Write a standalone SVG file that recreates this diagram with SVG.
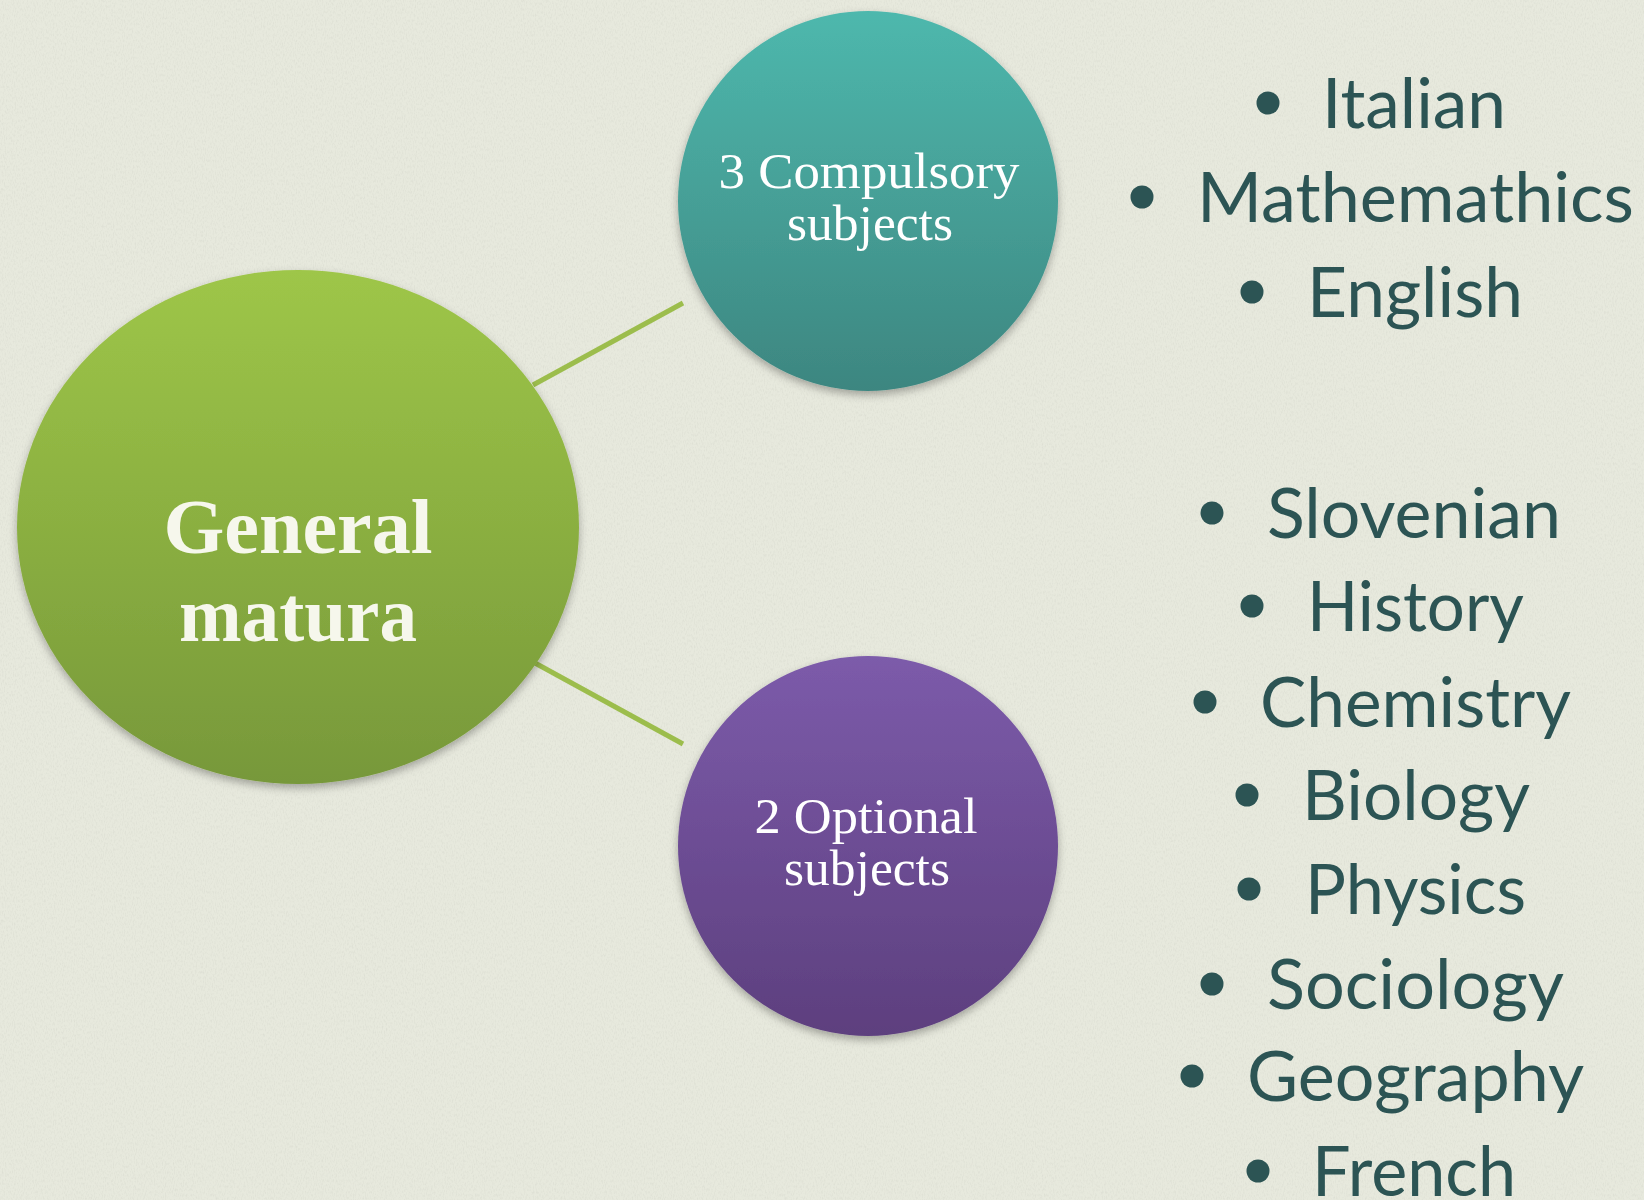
<svg xmlns="http://www.w3.org/2000/svg" width="1644" height="1200" viewBox="0 0 1644 1200">
<defs>
<linearGradient id="gGreen" x1="0" y1="0" x2="0" y2="1"><stop offset="0" stop-color="#9EC648"/><stop offset="1" stop-color="#77983A"/></linearGradient>
<linearGradient id="gTeal" x1="0" y1="0" x2="0" y2="1"><stop offset="0" stop-color="#4EB8AD"/><stop offset="1" stop-color="#3D8680"/></linearGradient>
<linearGradient id="gPurple" x1="0" y1="0" x2="0" y2="1"><stop offset="0" stop-color="#7C5BAA"/><stop offset="1" stop-color="#5D3F7E"/></linearGradient>
<filter id="shadow" x="-10%" y="-10%" width="120%" height="125%"><feDropShadow dx="0" dy="4" stdDeviation="4" flood-color="#000" flood-opacity="0.3"/></filter>
<filter id="tex" x="0" y="0" width="100%" height="100%"><feTurbulence type="fractalNoise" baseFrequency="0.9 0.35" numOctaves="2" seed="3"/><feColorMatrix type="matrix" values="0 0 0 0 0.55  0 0 0 0 0.56  0 0 0 0 0.5  0 0 0 -1.6 0.9"/></filter>
<style>
.bg{fill:#E7E9DD}
.conn{stroke:#9CBD4C;stroke-width:5;fill:none}
.serif{font-family:"Liberation Serif","Times New Roman",serif;text-anchor:middle}
.lbl{fill:#FFFFFF;font-size:50px}
.big{fill:#F6F7EC;font-size:78px;font-weight:bold}
.item{font-family:Lato,"Open Sans","Liberation Sans",sans-serif;font-size:70px;fill:#2C5454}
.dot{fill:#2C5454}
</style>
</defs>
<rect class="bg" x="0" y="0" width="1644" height="1200"/>
<rect x="0" y="0" width="1644" height="1200" filter="url(#tex)" opacity="0.35"/>
<g id="connectors">
<line class="conn" x1="533" y1="385" x2="683" y2="303"/>
<line class="conn" x1="535" y1="663" x2="683" y2="744"/>
</g>
<g id="node-general">
<ellipse cx="298" cy="527" rx="281" ry="257" fill="url(#gGreen)" filter="url(#shadow)"/>
<text class="serif big" x="298" y="553" textLength="269" lengthAdjust="spacingAndGlyphs">General</text>
<text class="serif big" x="298" y="641" textLength="238" lengthAdjust="spacingAndGlyphs">matura</text>
</g>
<g id="node-compulsory">
<circle cx="868" cy="201" r="190" fill="url(#gTeal)" filter="url(#shadow)"/>
<text class="serif lbl" x="869" y="188" textLength="301" lengthAdjust="spacingAndGlyphs">3 Compulsory</text>
<text class="serif lbl" x="870" y="240" textLength="166" lengthAdjust="spacingAndGlyphs">subjects</text>
</g>
<g id="node-optional">
<circle cx="868" cy="846" r="190" fill="url(#gPurple)" filter="url(#shadow)"/>
<text class="serif lbl" x="866" y="833" textLength="223" lengthAdjust="spacingAndGlyphs">2 Optional</text>
<text class="serif lbl" x="867" y="885" textLength="166" lengthAdjust="spacingAndGlyphs">subjects</text>
</g>
<g id="list-compulsory">
<circle class="dot" cx="1268" cy="103" r="11.5"/><text class="item" x="1322" y="128" textLength="184" lengthAdjust="spacingAndGlyphs">Italian</text>
<circle class="dot" cx="1142" cy="197" r="11.5"/><text class="item" x="1197" y="222" textLength="437" lengthAdjust="spacingAndGlyphs">Mathemathics</text>
<circle class="dot" cx="1252" cy="292" r="11.5"/><text class="item" x="1307" y="317" textLength="216" lengthAdjust="spacingAndGlyphs">English</text>
</g>
<g id="list-optional">
<circle class="dot" cx="1212" cy="513" r="11.5"/><text class="item" x="1267" y="538" textLength="294" lengthAdjust="spacingAndGlyphs">Slovenian</text>
<circle class="dot" cx="1252" cy="606" r="11.5"/><text class="item" x="1307" y="631" textLength="217" lengthAdjust="spacingAndGlyphs">History</text>
<circle class="dot" cx="1205" cy="702" r="11.5"/><text class="item" x="1260" y="727" textLength="311" lengthAdjust="spacingAndGlyphs">Chemistry</text>
<circle class="dot" cx="1247" cy="795" r="11.5"/><text class="item" x="1302" y="820" textLength="228" lengthAdjust="spacingAndGlyphs">Biology</text>
<circle class="dot" cx="1249" cy="889" r="11.5"/><text class="item" x="1305" y="914" textLength="221" lengthAdjust="spacingAndGlyphs">Physics</text>
<circle class="dot" cx="1212" cy="984" r="11.5"/><text class="item" x="1267" y="1009" textLength="297" lengthAdjust="spacingAndGlyphs">Sociology</text>
<circle class="dot" cx="1192" cy="1076" r="11.5"/><text class="item" x="1247" y="1101" textLength="337" lengthAdjust="spacingAndGlyphs">Geography</text>
<circle class="dot" cx="1258" cy="1171" r="11.5"/><text class="item" x="1312" y="1196" textLength="204" lengthAdjust="spacingAndGlyphs">French</text>
</g>
</svg>
